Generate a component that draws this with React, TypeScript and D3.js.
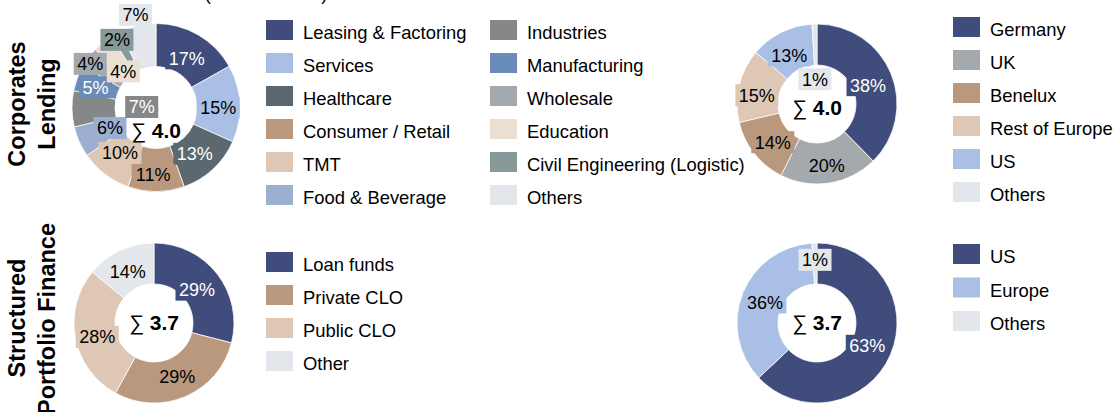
import React from "react";
import * as d3 from "d3";

// ---------- data ----------
const corpSectorLabels = [
  "Leasing & Factoring", "Services", "Healthcare", "Consumer / Retail", "TMT", "Food & Beverage",
  "Industries", "Manufacturing", "Wholesale", "Education", "Civil Engineering (Logistic)", "Others",
];
const corpSectorValues = [17, 15, 13, 11, 10, 6, 7, 5, 4, 4, 2, 7];

const corpRegionLabels = ["Germany", "UK", "Benelux", "Rest of Europe", "US", "Others"];
const corpRegionValues = [38, 20, 14, 15, 13, 1];

const spfTypeLabels = ["Loan funds", "Private CLO", "Public CLO", "Other"];
const spfTypeValues = [29, 29, 28, 14];

const spfRegionLabels = ["US", "Europe", "Others"];
const spfRegionValues = [63, 36, 1];

const totalLabels = ["4.0", "4.0", "3.7", "3.7"];
const rowTitles = [["Corporates", "Lending"], ["Structured", "Portfolio Finance"]];

// ---------- styles / layout ----------
const C = {
  navy: "#404C7C", lightBlue: "#AABFE5", slate: "#5C6870", tan: "#BA987E", lightTan: "#DEC8B5",
  food: "#9CAFD0", gray: "#858789", manu: "#6B8BB9", wholesale: "#A4A9AE", edu: "#EBDFD4",
  civil: "#879A9A", others: "#E3E7EB",
};
const corpSectorColors = [C.navy, C.lightBlue, C.slate, C.tan, C.lightTan, C.food, C.gray, C.manu, C.wholesale, C.edu, C.civil, C.others];
const corpRegionColors = [C.navy, C.wholesale, C.tan, C.lightTan, C.lightBlue, C.others];
const spfTypeColors = [C.navy, C.tan, C.lightTan, C.others];
const spfRegionColors = [C.navy, C.lightBlue, C.others];

// label placement: [radius as fraction of outer radius, angle nudge in degrees]
const nudgeTL = [[.69, 1.7], [.74, 2.7], [.72, 2.8], [.80, 2.5], [.69, 1], [.60, 0], [.17, 3], [.76, -2], [.94, -3], [.58, -3], [.93, -1.5], [1.13, 0]];
const nudgeTR = [[.68, 2], [.785, 0], [.73, -2.5], [.76, -5], [.70, -3], [.31, -3]];
const nudgeBL = [[.68, 0], [.73, 0], [.73, -3], [.72, -2]];
const nudgeBR = [[.69, 1], [.70, 0], [.79, 0]];

const FONT = "'Liberation Sans', Arial, Helvetica, sans-serif";

function textW(s: string, size: number) {
  let w = 0;
  for (const ch of s) {
    if (ch === "%") w += 0.889;
    else if (ch === "1") w += 0.556;
    else w += 0.556;
  }
  return w * size;
}

function lum(col: string) {
  const c = d3.rgb(col);
  const f = (v: number) => { v /= 255; return v <= 0.03928 ? v / 12.92 : Math.pow((v + 0.055) / 1.055, 2.4); };
  return 0.2126 * f(c.r) + 0.7152 * f(c.g) + 0.0722 * f(c.b);
}

type DonutProps = {
  cx: number; cy: number; r: number; ir: number;
  values: number[]; colors: string[]; nudges: number[][]; total: string; totalDy: number;
};

function Donut({ cx, cy, r, ir, values, colors, nudges, total, totalDy }: DonutProps) {
  const pie = d3.pie<number>().sort(null).value((d) => d);
  const arcs = pie(values);
  const arc = d3.arc<d3.PieArcDatum<number>>().innerRadius(ir).outerRadius(r);
  const fs = 18;
  return (
    <g>
      <g transform={`translate(${cx},${cy})`}>
        {arcs.map((a, i) => (
          <path key={i} d={arc(a) || ""} fill={colors[i]} stroke="#fff" strokeWidth={0.75} />
        ))}
      </g>
      {arcs.map((a, i) => {
        const [rf, da] = nudges[i];
        const ang = (a.startAngle + a.endAngle) / 2 + (da * Math.PI) / 180;
        const x = cx + rf * r * Math.sin(ang);
        const y = cy - rf * r * Math.cos(ang);
        const txt = `${values[i]}%`;
        const w = textW(txt, fs) + 7;
        const h = 22;
        const tc = lum(colors[i]) < 0.28 ? "#fff" : "#000";
        return (
          <g key={"l" + i}>
            <rect x={x - w / 2} y={y - h / 2} width={w} height={h} fill={colors[i]} />
            <text x={x} y={y + 6.4} textAnchor="middle" fontSize={fs} fill={tc} fontFamily={FONT}>{txt}</text>
          </g>
        );
      })}
      <text x={cx} y={cy + totalDy + 7.5} textAnchor="middle" fontSize={21} fontFamily={FONT} fill="#000">
        <tspan>∑ </tspan>
        <tspan fontWeight="bold">{total}</tspan>
      </text>
    </g>
  );
}

function Legend({ x, y, labels, colors, step }: { x: number; y: number; labels: string[]; colors: string[]; step: number }) {
  return (
    <g>
      {labels.map((l, i) => (
        <g key={i}>
          <rect x={x} y={y + i * step} width={27} height={20} fill={colors[i]} />
          <text x={x + 37} y={y + i * step + 19} fontSize={18.4} fontFamily={FONT} fill="#000">{l}</text>
        </g>
      ))}
    </g>
  );
}

export default function App() {
  return (
    <div style={{ position: "absolute", left: 0, top: 0 }}>
      <svg width={1114} height={412} style={{ display: "block", background: "#fff" }}>
        <text x={266} y={-0.5} textAnchor="middle" fontSize={18.4} fontFamily={FONT}>(in EUR billion)</text>

        {/* row titles */}
        <g fontFamily={FONT} fontWeight="bold" fontSize={23.5} textAnchor="middle">
          <text transform="translate(25,104) rotate(-90)">{rowTitles[0][0]}</text>
          <text transform="translate(55,104) rotate(-90)">{rowTitles[0][1]}</text>
          <text transform="translate(25,318) rotate(-90)">{rowTitles[1][0]}</text>
          <text transform="translate(55,319) rotate(-90)">{rowTitles[1][1]}</text>
        </g>

        <Donut cx={156} cy={107.5} r={84} ir={41} values={corpSectorValues} colors={corpSectorColors} nudges={nudgeTL} total={totalLabels[0]} totalDy={22.5} />
        <Legend x={266} y={20} labels={corpSectorLabels.slice(0, 6)} colors={corpSectorColors.slice(0, 6)} step={33} />
        <Legend x={490} y={20} labels={corpSectorLabels.slice(6)} colors={corpSectorColors.slice(6)} step={33} />

        <Donut cx={817} cy={104} r={80} ir={39} values={corpRegionValues} colors={corpRegionColors} nudges={nudgeTR} total={totalLabels[1]} totalDy={3} />
        <Legend x={953} y={17} labels={corpRegionLabels} colors={corpRegionColors} step={33} />

        <Donut cx={154} cy={323} r={80} ir={39} values={spfTypeValues} colors={spfTypeColors} nudges={nudgeBL} total={totalLabels[2]} totalDy={-1} />
        <Legend x={266} y={252} labels={spfTypeLabels} colors={spfTypeColors} step={33} />

        <Donut cx={817} cy={323} r={80} ir={39} values={spfRegionValues} colors={spfRegionColors} nudges={nudgeBR} total={totalLabels[3]} totalDy={-1} />
        <Legend x={953} y={244} labels={spfRegionLabels} colors={spfRegionColors} step={33.5} />
      </svg>
    </div>
  );
}
